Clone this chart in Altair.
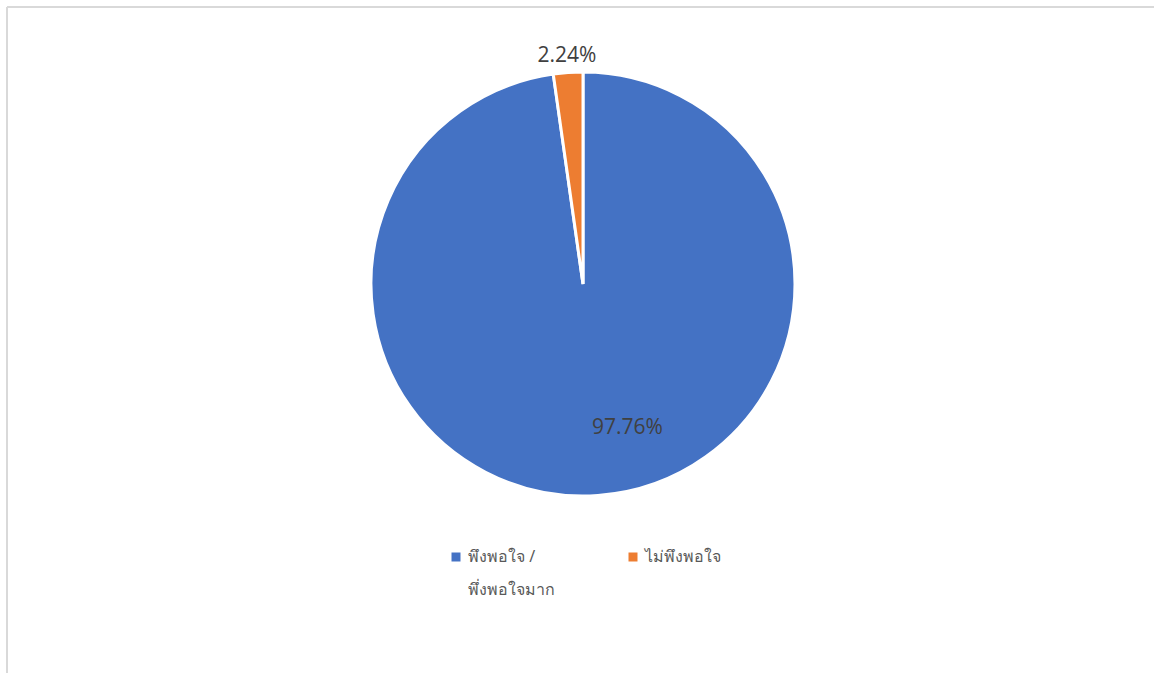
import altair as alt
import pandas as pd

categories = ["พึงพอใจ / พึ่งพอใจมาก", "ไม่พึงพอใจ"]
values = [97.76, 2.24]
labels = ["97.76%", "2.24%"]
colors = ["#4472C4", "#ED7D31"]

df = pd.DataFrame({"cat": categories, "val": values, "lab": labels, "ord": [0, 1]})

base = alt.Chart(df).encode(
    theta=alt.Theta("val:Q", stack=True),
    order=alt.Order("ord:Q"),
)

pie = base.mark_arc(stroke="white", strokeWidth=3, radius=212).encode(
    x=alt.value(576), y=alt.value(277),
    color=alt.Color(
        "cat:N",
        scale=alt.Scale(domain=categories, range=colors),
        sort=categories,
        legend=alt.Legend(
            title=None, orient="none", legendX=441, legendY=542,
            direction="horizontal", columns=2, columnPadding=70,
            symbolType="square", symbolSize=81, symbolStrokeWidth=0,
            labelFont="Noto Sans", labelFontSize=16, labelColor="#595959",
            labelLimit=300, padding=0, rowPadding=0,
            labelBaseline="middle",
            labelExpr="datum.label == 'พึงพอใจ / พึ่งพอใจมาก' ? ['พึงพอใจ /', 'พึ่งพอใจมาก'] : [datum.label, '\u00a0']",
        ),
    ),
)

txt_small = base.transform_calculate(
    t="datum.ord == 1 ? datum.lab : ''"
).mark_text(radius=229, font="Open Sans", fontSize=21, color="#404040").encode(
    x=alt.value(576), y=alt.value(277), text="t:N"
)

txt_big = base.transform_calculate(
    t="datum.ord == 0 ? datum.lab : ''"
).mark_text(radius=148, dx=34, dy=-4, font="Open Sans", fontSize=21, color="#404040").encode(
    x=alt.value(576), y=alt.value(277), text="t:N"
)

frame_left = alt.Chart(df).mark_rule(color="#d9d9d9", strokeWidth=2).encode(
    x=alt.value(0), y=alt.value(0), y2=alt.value(700)
)
frame_top = alt.Chart(df).mark_rule(color="#d9d9d9", strokeWidth=2).encode(
    x=alt.value(0), x2=alt.value(1200), y=alt.value(0)
)

chart = alt.layer(frame_left, frame_top, pie, txt_small, txt_big).properties(
    width=1147, height=666,
    autosize=alt.AutoSizeParams(type="none"),
    padding={"left": 7, "top": 7, "right": 0, "bottom": 0},
    background="white",
).configure(
    view=alt.ViewConfig(stroke=None),
    style={"guide-label": {"lineHeight": 33}},
)

chart.save("out.html", embed_options={"renderer": "svg", "actions": False})
